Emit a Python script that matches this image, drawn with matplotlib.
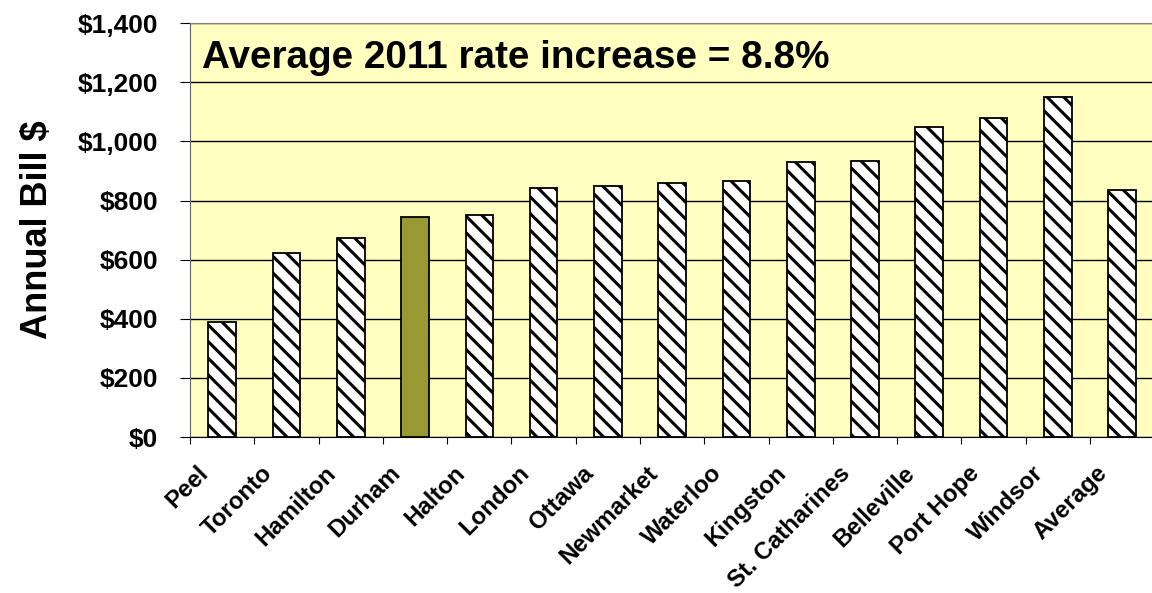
import numpy as np
import matplotlib
matplotlib.use('Agg')
import matplotlib.pyplot as plt
from matplotlib.transforms import ScaledTranslation

cities = ['Peel', 'Toronto', 'Hamilton', 'Durham', 'Halton', 'London', 'Ottawa',
          'Newmarket', 'Waterloo', 'Kingston', 'St. Catharines', 'Belleville',
          'Port Hope', 'Windsor', 'Average']
annual_bill = [388, 621, 674, 744, 751, 843, 849, 860, 865, 930, 935, 1049, 1078, 1149, 836]
highlight = 'Durham'
y_ticks = [0, 200, 400, 600, 800, 1000, 1200, 1400]
note = 'Average 2011 rate increase = 8.8%'

plt.rcParams['font.family'] = ['Liberation Sans', 'DejaVu Sans']
plt.rcParams['hatch.linewidth'] = 2.2

fig = plt.figure(figsize=(11.52, 5.93), dpi=100)
ax = fig.add_axes([0.165, 0.263, 0.837, 0.698])
ax.set_facecolor('#FFFFC0')

x = np.arange(len(cities))
for i, (name, val) in enumerate(zip(cities, annual_bill)):
    if name == highlight:
        ax.bar(i, val, width=0.43, color='#999933', edgecolor='black', linewidth=1.3, zorder=3)
    else:
        ax.bar(i, val, width=0.43, color='white', edgecolor='black', hatch='\\\\',
               linewidth=1.3, zorder=3)

ax.set_ylim(0, 1400)
ax.set_xlim(-0.5, len(cities) - 0.5)
ax.set_yticks(y_ticks)
ax.set_yticklabels(['${:,}'.format(v) for v in y_ticks], fontsize=19, fontweight='bold')
ax.yaxis.grid(True, color='black', linewidth=1.0, zorder=1)
ax.set_axisbelow(True)

# ticks between categories, labels at the centres
ax.set_xticks(np.arange(-0.5, len(cities), 1.0))
ax.set_xticklabels([])
ax.set_xticks(x, minor=True)
ax.set_xticklabels(cities, minor=True, rotation=45, ha='right', va='center',
                   rotation_mode='anchor', fontsize=17.3, fontweight='bold')
ax.tick_params(axis='x', which='minor', length=0, pad=23.5)
ax.tick_params(axis='x', which='major', length=5, color='black')
ax.tick_params(axis='y', length=7, pad=16)

# nudge the rotated labels a bit to the left (after tick_params, which resets transforms)
shift = ScaledTranslation(-0.18, 0, fig.dpi_scale_trans)
for lbl in ax.get_xticklabels(minor=True):
    lbl.set_transform(lbl.get_transform() + shift)

ax.set_ylabel('Annual Bill $', fontsize=26, fontweight='bold', labelpad=16)

for side in ['top', 'right']:
    ax.spines[side].set_color('#808080')
ax.spines['left'].set_color('#606060')
ax.spines['bottom'].set_color('black')

ax.text(0.012, 0.891, note, transform=ax.transAxes, fontsize=27.8, fontweight='bold',
        va='baseline', ha='left', zorder=4)

fig.savefig('out.png', dpi=100)
